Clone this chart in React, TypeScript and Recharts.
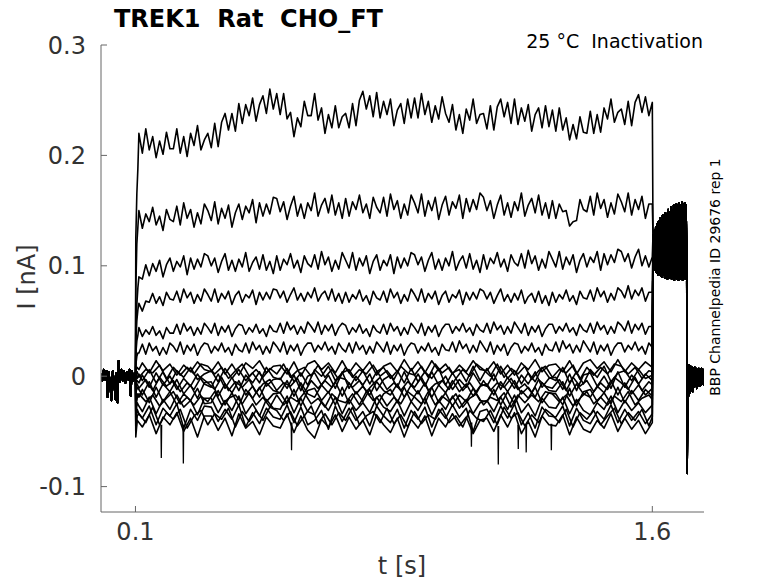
import React from 'react';
import { LineChart, Line, XAxis, YAxis } from 'recharts';

const FONT = '"DejaVu Sans", sans-serif';

// Times in s, currents in pA (1 pA = 0.001 nA)
const PRE_T = [0, 0.004, 0.008, 0.012, 0.016, 0.019, 0.022, 0.026, 0.03, 0.034, 0.038, 0.042, 0.045, 0.048, 0.051, 0.055, 0.059, 0.063, 0.067, 0.071, 0.075, 0.079, 0.083, 0.086, 0.09, 0.094, 0.098];
const PRE_I = [2, -4, 6, -3, 5, -19, 4, -5, -22, 5, -6, -21, 3, -24, 14, -5, 6, -4, 5, -6, 4, -3, 6, -18, 5, -4, 3];

// fine sampling (upper sweeps)
const FINE_T = [
  0.1, 0.101, 0.104, 0.107,
  0.11, 0.12, 0.13, 0.14, 0.15, 0.16, 0.17, 0.18, 0.19, 0.2,
  0.21, 0.22, 0.23, 0.24, 0.25, 0.26, 0.27, 0.28, 0.29, 0.3,
  0.31, 0.32, 0.33, 0.34, 0.35, 0.36, 0.37, 0.38, 0.39, 0.4,
  0.41, 0.42, 0.43, 0.44, 0.45, 0.46, 0.47, 0.48, 0.49, 0.5,
  0.51, 0.52, 0.53, 0.54, 0.55, 0.56, 0.57, 0.58, 0.59, 0.6,
  0.61, 0.62, 0.63, 0.64, 0.65, 0.66, 0.67, 0.68, 0.69, 0.7,
  0.71, 0.72, 0.73, 0.74, 0.75, 0.76, 0.77, 0.78, 0.79, 0.8,
  0.81, 0.82, 0.83, 0.84, 0.85, 0.86, 0.87, 0.88, 0.89, 0.9,
  0.91, 0.92, 0.93, 0.94, 0.95, 0.96, 0.97, 0.98, 0.99, 1.0,
  1.01, 1.02, 1.03, 1.04, 1.05, 1.06, 1.07, 1.08, 1.09, 1.1,
  1.11, 1.12, 1.13, 1.14, 1.15, 1.16, 1.17, 1.18, 1.19, 1.2,
  1.21, 1.22, 1.23, 1.24, 1.25, 1.26, 1.27, 1.28, 1.29, 1.3,
  1.31, 1.32, 1.33, 1.34, 1.35, 1.36, 1.37, 1.38, 1.39, 1.4,
  1.41, 1.42, 1.43, 1.44, 1.45, 1.46, 1.47, 1.48, 1.49, 1.5,
  1.51, 1.52, 1.53, 1.54, 1.55, 1.56, 1.57, 1.58, 1.59,
  1.6,
];
const TRACE_A = [
  0, 125, 165, 188,
  220, 202, 224, 205, 217, 198, 213, 201, 221, 206,
  206, 224, 202, 217, 199, 220, 209, 227, 205, 214,
  220, 207, 229, 208, 230, 238, 223, 238, 222, 247,
  229, 246, 236, 252, 231, 246, 254, 238, 260, 242,
  256, 237, 256, 233, 239, 217, 234, 226, 249, 236,
  236, 256, 232, 243, 220, 237, 225, 245, 225, 235,
  238, 225, 247, 227, 250, 258, 242, 254, 235, 257,
  234, 249, 237, 251, 227, 241, 247, 229, 251, 234,
  252, 234, 256, 237, 249, 230, 245, 233, 253, 238,
  230, 246, 223, 237, 220, 242, 232, 251, 229, 237,
  238, 224, 245, 223, 244, 251, 235, 248, 229, 251,
  228, 243, 231, 246, 222, 237, 243, 225, 245, 226,
  241, 222, 243, 223, 234, 214, 228, 215, 235, 221,
  220, 240, 220, 237, 221, 243, 233, 251, 230, 239,
  242, 228, 249, 227, 248, 255, 239, 253, 236,
  248,
];
const TRACE_B = [
  0, 80, 120, 135,
  150, 134, 147, 140, 153, 137, 145, 132, 151, 142,
  140, 154, 137, 157, 143, 151, 135, 148, 138, 156,
  150, 141, 158, 138, 152, 143, 155, 135, 148, 156,
  142, 154, 148, 160, 139, 157, 145, 156, 147, 162,
  161, 149, 158, 142, 154, 163, 145, 156, 143, 157,
  150, 166, 145, 155, 161, 148, 164, 146, 157, 143,
  161, 145, 158, 151, 164, 148, 156, 143, 162, 153,
  148, 162, 145, 165, 151, 159, 143, 156, 146, 164,
  157, 148, 165, 145, 159, 150, 162, 142, 155, 163,
  146, 158, 152, 164, 143, 161, 149, 160, 151, 166,
  162, 150, 159, 143, 155, 164, 146, 157, 144, 158,
  150, 166, 145, 155, 161, 148, 164, 146, 157, 143,
  159, 143, 156, 149, 150, 136, 140, 141, 160, 151,
  149, 163, 146, 166, 152, 160, 144, 157, 147, 165,
  158, 149, 166, 146, 160, 151, 163, 143, 156,
  156,
];
const TRACE_C = [
  0, 40, 65, 80,
  90, 88, 101, 91, 102, 95, 105, 90, 101, 107,
  95, 104, 99, 109, 92, 107, 97, 106, 99, 111,
  109, 100, 107, 94, 104, 111, 96, 105, 95, 106,
  99, 112, 95, 103, 108, 97, 110, 96, 104, 93,
  109, 96, 106, 101, 111, 98, 105, 94, 109, 102,
  99, 110, 97, 113, 101, 108, 95, 105, 97, 112,
  105, 98, 112, 96, 107, 100, 109, 93, 104, 110,
  96, 105, 100, 110, 93, 108, 98, 107, 100, 112,
  110, 101, 108, 95, 105, 112, 97, 106, 96, 107,
  100, 113, 96, 104, 109, 98, 111, 97, 105, 94,
  110, 97, 107, 102, 112, 99, 106, 95, 110, 103,
  100, 111, 98, 114, 102, 109, 96, 106, 98, 113,
  106, 99, 113, 97, 108, 101, 110, 94, 105, 111,
  99, 108, 103, 113, 96, 111, 101, 110, 103, 115,
  113, 104, 111, 98, 108, 115, 100, 109, 99,
  108,
];
const TRACE_D = [
  0, 30, 50, 60,
  66, 59, 68, 67, 75, 66, 72, 64, 76, 70,
  69, 77, 67, 79, 71, 76, 66, 74, 68, 79,
  74, 68, 79, 67, 75, 70, 77, 65, 73, 77,
  67, 74, 71, 78, 65, 76, 69, 76, 70, 79,
  78, 71, 77, 67, 74, 80, 69, 75, 68, 76,
  71, 80, 68, 74, 77, 69, 79, 68, 75, 66,
  76, 67, 74, 70, 78, 68, 73, 65, 77, 71,
  69, 77, 67, 79, 71, 76, 66, 74, 68, 79,
  74, 68, 79, 67, 75, 70, 77, 65, 73, 77,
  67, 74, 71, 78, 65, 76, 69, 76, 70, 79,
  77, 70, 76, 66, 73, 79, 68, 74, 67, 75,
  69, 78, 66, 72, 75, 67, 77, 66, 73, 64,
  76, 67, 74, 70, 78, 68, 73, 65, 77, 71,
  70, 78, 68, 80, 72, 77, 67, 75, 69, 80,
  77, 71, 82, 70, 78, 73, 80, 68, 76,
  76,
];
const TRACE_E = [
  0, 20, 32, 37,
  44, 36, 42, 38, 45, 37, 41, 34, 44, 39,
  39, 47, 38, 48, 41, 45, 37, 44, 38, 48,
  44, 39, 48, 37, 45, 40, 46, 36, 43, 47,
  46, 38, 44, 40, 47, 39, 43, 36, 46, 41,
  40, 48, 39, 49, 42, 46, 38, 45, 39, 49,
  45, 40, 49, 38, 46, 41, 47, 37, 44, 48,
  46, 38, 44, 40, 47, 39, 43, 36, 46, 41,
  39, 47, 38, 48, 41, 45, 37, 44, 38, 48,
  44, 39, 48, 37, 45, 40, 46, 36, 43, 47,
  47, 39, 45, 41, 48, 40, 44, 37, 47, 42,
  40, 48, 39, 49, 42, 46, 38, 45, 39, 49,
  44, 39, 48, 37, 45, 40, 46, 36, 43, 47,
  47, 39, 45, 41, 48, 40, 44, 37, 47, 42,
  40, 48, 39, 49, 42, 46, 38, 45, 39, 49,
  46, 41, 50, 39, 47, 42, 48, 38, 45,
  45,
];
const TRACE_F = [
  0, 10, 18, 21,
  21, 29, 20, 30, 23, 27, 19, 26, 20, 30,
  27, 22, 31, 20, 28, 23, 29, 19, 26, 30,
  29, 21, 27, 23, 30, 22, 26, 19, 29, 24,
  22, 30, 21, 31, 24, 28, 20, 27, 21, 31,
  27, 22, 31, 20, 28, 23, 29, 19, 26, 30,
  30, 22, 28, 24, 31, 23, 27, 20, 30, 25,
  22, 30, 21, 31, 24, 28, 20, 27, 21, 31,
  27, 22, 31, 20, 28, 23, 29, 19, 26, 30,
  29, 21, 27, 23, 30, 22, 26, 19, 29, 24,
  23, 31, 22, 32, 25, 29, 21, 28, 22, 32,
  27, 22, 31, 20, 28, 23, 29, 19, 26, 30,
  29, 21, 27, 23, 30, 22, 26, 19, 29, 24,
  23, 31, 22, 32, 25, 29, 21, 28, 22, 32,
  27, 22, 31, 20, 28, 23, 29, 19, 26, 30,
  30, 22, 28, 24, 31, 23, 27, 20, 30,
  26,
];

// coarse sampling, even grid (lower sweeps)
const EVEN_T = [
  0.1, 0.101, 0.105, 0.11,
  0.12, 0.14, 0.16, 0.18, 0.2, 0.22, 0.24, 0.26, 0.28, 0.3,
  0.32, 0.34, 0.36, 0.38, 0.4, 0.42, 0.44, 0.46, 0.48, 0.5,
  0.52, 0.54, 0.56, 0.58, 0.6, 0.62, 0.64, 0.66, 0.68, 0.7,
  0.72, 0.74, 0.76, 0.78, 0.8, 0.82, 0.84, 0.86, 0.88, 0.9,
  0.92, 0.94, 0.96, 0.98, 1.0, 1.02, 1.04, 1.06, 1.08, 1.1,
  1.12, 1.14, 1.16, 1.18, 1.2, 1.22, 1.24, 1.26, 1.28, 1.3,
  1.32, 1.34, 1.36, 1.38, 1.4, 1.42, 1.44, 1.46, 1.48, 1.5,
  1.52, 1.54, 1.56, 1.58,
  1.6,
];
const TRACE_G = [
  0, 5, 8, 6,
  12, 3, 14, 5, 11, 1, 10, 4, 13, 6,
  4, 13, 2, 11, 1, 12, 7, 14, 3, 9,
  10, 2, 13, 0, 11, 14, 6, 12, 3, 14,
  3, 12, 5, 13, 1, 9, 12, 4, 15, 5,
  13, 3, 14, 5, 11, 2, 10, 4, 14, 6,
  5, 13, 2, 10, 1, 12, 6, 15, 4, 10,
  11, 4, 14, 2, 12, 15, 7, 13, 4, 15,
  4, 12, 6, 13,
  8,
];
const TRACE_H = [
  0, 3, -2, 2,
  -4, 6, -6, 4, -7, 5, -1, 8, -3, 2,
  5, -5, 7, -2, 6, -4, 3, -6, 8, -1,
  -3, 7, -5, 3, -8, 6, 0, 9, -4, 3,
  6, -4, 5, -7, 4, 8, -2, 5, -6, 7,
  -5, 4, -2, 7, -8, 3, 6, -5, 9, -4,
  7, -4, 9, -2, 5, -7, 3, -5, 8, -1,
  -4, 8, -6, 4, -7, 6, -1, 9, -5, 3,
  5, -4, 6, -2,
  1,
];
const TRACE_I = [
  0, -8, -4, -6,
  1, -10, 3, -8, 0, -12, -2, -9, 2, -7,
  -10, 2, -11, -1, -13, 1, -6, 4, -9, -3,
  -2, -11, 1, -13, 0, 3, -8, 1, -11, 4,
  -11, 0, -8, 2, -13, -3, 1, -10, 4, -9,
  2, -9, 4, -8, 0, -12, -3, -10, 3, -7,
  -9, 2, -12, -1, -11, 1, -7, 4, -10, -2,
  -1, -12, 2, -13, 1, 3, -9, 0, -11, 4,
  -10, 1, -7, 2,
  -4,
];
const TRACE_J = [
  0, -15, -10, -12,
  -17, -5, -19, -7, -14, -3, -16, -8, -20, -6,
  -5, -18, -7, -15, -4, -17, -9, -19, -6, -13,
  -15, -4, -18, -6, -16, -19, -8, -15, -5, -18,
  -6, -16, -9, -17, -5, -13, -17, -7, -19, -8,
  -16, -6, -19, -8, -15, -4, -14, -7, -18, -9,
  -7, -17, -5, -14, -4, -16, -10, -19, -6, -13,
  -14, -5, -18, -7, -16, -19, -9, -15, -4, -17,
  -6, -16, -8, -17,
  -11,
];
const TRACE_K = [
  0, -25, -16, -19,
  -12, -24, -10, -23, -14, -26, -16, -22, -11, -25,
  -24, -13, -26, -15, -27, -12, -20, -10, -23, -16,
  -15, -25, -12, -27, -13, -11, -22, -14, -26, -10,
  -25, -14, -23, -12, -27, -16, -12, -24, -10, -23,
  -13, -25, -10, -24, -15, -27, -17, -23, -11, -22,
  -23, -12, -26, -14, -25, -13, -20, -10, -24, -15,
  -16, -26, -11, -27, -14, -12, -23, -15, -25, -10,
  -24, -13, -22, -12,
  -18,
];
const TRACE_L = [
  0, -35, -24, -27,
  -32, -19, -34, -21, -30, -17, -28, -22, -35, -20,
  -20, -33, -22, -31, -18, -34, -25, -36, -21, -29,
  -30, -18, -33, -20, -32, -35, -23, -31, -19, -34,
  -21, -31, -24, -33, -19, -28, -32, -22, -36, -23,
  -31, -20, -35, -22, -30, -18, -29, -21, -34, -24,
  -22, -32, -19, -30, -17, -33, -25, -36, -20, -28,
  -29, -19, -34, -21, -31, -35, -24, -30, -18, -33,
  -22, -31, -24, -33,
  -26,
];
const TRACE_M = [
  0, -45, -30, -34,
  -38, -27, -44, -29, -36, -25, -47, -30, -40, -27,
  -28, -41, -30, -39, -26, -46, -33, -43, -29, -37,
  -39, -26, -42, -28, -44, -40, -31, -48, -27, -41,
  -29, -40, -32, -45, -27, -36, -42, -30, -47, -31,
  -39, -28, -46, -30, -38, -26, -37, -29, -50, -32,
  -30, -42, -27, -38, -25, -44, -33, -47, -28, -36,
  -37, -27, -45, -29, -40, -43, -32, -39, -26, -42,
  -30, -40, -32, -43,
  -34,
];
const TRACE_N = [
  0, -55, -40, -42,
  -46, -35, -52, -37, -44, -33, -50, -38, -55, -36,
  -36, -49, -38, -54, -34, -47, -41, -53, -37, -45,
  -47, -34, -51, -36, -49, -56, -39, -46, -35, -50,
  -37, -48, -40, -53, -35, -44, -51, -38, -55, -39,
  -47, -36, -54, -38, -46, -34, -45, -37, -52, -40,
  -38, -50, -35, -46, -33, -52, -41, -55, -36, -44,
  -45, -35, -53, -37, -48, -51, -40, -47, -34, -50,
  -38, -48, -40, -52,
  -42,
];

// coarse sampling, odd grid (more lower sweeps)
const ODD_T = [
  0.1, 0.101, 0.105,
  0.11, 0.13, 0.15, 0.17, 0.19, 0.21, 0.23, 0.25, 0.27, 0.29,
  0.31, 0.33, 0.35, 0.37, 0.39, 0.41, 0.43, 0.45, 0.47, 0.49,
  0.51, 0.53, 0.55, 0.57, 0.59, 0.61, 0.63, 0.65, 0.67, 0.69,
  0.71, 0.73, 0.75, 0.77, 0.79, 0.81, 0.83, 0.85, 0.87, 0.89,
  0.91, 0.93, 0.95, 0.97, 0.99, 1.01, 1.03, 1.05, 1.07, 1.09,
  1.11, 1.13, 1.15, 1.17, 1.19, 1.21, 1.23, 1.25, 1.27, 1.29,
  1.31, 1.33, 1.35, 1.37, 1.39, 1.41, 1.43, 1.45, 1.47, 1.49,
  1.51, 1.53, 1.55, 1.57, 1.59,
  1.6,
];
const TRACE_O = [
  0, 2, 4,
  -1, 6, 3, 10, -3, 8, 1, 8, 2, 11,
  9, 2, 8, -2, 5, 11, 0, 6, -1, 7,
  2, 11, -1, 5, 8, 0, 10, -1, 6, -3,
  8, -1, 6, 2, 10, 0, 5, -3, 9, 3,
  1, 9, -1, 11, 3, 8, -2, 6, 0, 11,
  6, 0, 11, -1, 7, 2, 9, -3, 5, 9,
  -1, 6, 3, 10, -3, 8, 1, 8, 2, 11,
  9, 2, 8, -2, 5,
  4,
];
const TRACE_P = [
  0, -10, -7,
  -11, -3, -13, -1, -9, -4, -14, -6, -12, -1,
  -6, -12, -1, -13, -5, -10, -3, -15, -7, -3,
  -13, -6, -9, -2, -15, -4, -11, -4, -10, -1,
  -3, -10, -4, -14, -7, -1, -12, -6, -13, -5,
  -10, -1, -13, -7, -4, -12, -2, -13, -6, -15,
  -4, -13, -6, -10, -2, -12, -7, -15, -3, -9,
  -11, -3, -13, -1, -9, -4, -14, -6, -12, -1,
  -6, -12, -1, -13, -5,
  -8,
];
const TRACE_Q = [
  0, -28, -20,
  -16, -23, -17, -27, -20, -14, -25, -19, -26, -18,
  -23, -14, -26, -20, -17, -25, -15, -26, -19, -28,
  -17, -26, -19, -23, -15, -25, -20, -28, -16, -22,
  -24, -16, -26, -14, -22, -17, -27, -19, -25, -14,
  -19, -25, -14, -26, -18, -23, -16, -28, -20, -16,
  -26, -19, -22, -15, -28, -17, -24, -17, -23, -14,
  -16, -23, -17, -27, -20, -14, -25, -19, -26, -18,
  -23, -14, -26, -20, -17,
  -21,
];
const TRACE_R = [
  0, -50, -36,
  -34, -42, -28, -44, -33, -39, -30, -47, -36, -31,
  -44, -34, -39, -29, -46, -32, -41, -31, -40, -28,
  -31, -40, -32, -45, -36, -27, -43, -34, -44, -33,
  -40, -28, -44, -36, -32, -42, -29, -43, -35, -46,
  -32, -43, -35, -39, -29, -42, -36, -46, -31, -38,
  -41, -31, -44, -28, -38, -33, -45, -35, -42, -30,
  -35, -42, -30, -46, -33, -39, -31, -44, -36, -29,
  -43, -33, -40, -30, -45,
  -37,
];

const TAIL_T = [
  1.602, 1.604, 1.606, 1.608, 1.61, 1.612, 1.614, 1.616, 1.618, 1.62,
  1.622, 1.624, 1.626, 1.628, 1.63, 1.632, 1.634, 1.636, 1.638, 1.64,
  1.642, 1.644, 1.646, 1.648, 1.65, 1.652, 1.654, 1.656, 1.658, 1.66,
  1.662, 1.664, 1.666, 1.668, 1.67, 1.672, 1.674, 1.676, 1.678, 1.68,
  1.682, 1.684, 1.686, 1.688, 1.69, 1.692, 1.694, 1.696, 1.698, 1.7,
];
const TAIL_I = [
  128, 98, 132, 96, 135, 94, 138, 92, 140, 93,
  143, 91, 141, 90, 146, 92, 144, 89, 148, 91,
  147, 88, 151, 90, 149, 89, 153, 88, 150, 90,
  155, 87, 152, 89, 156, 88, 154, 87, 157, 89,
  155, 88, 158, 87, 156, 89, 157, 88, 155, 90,
];

const POST_T = [
  1.701, 1.703, 1.705, 1.707, 1.709, 1.711, 1.713, 1.715, 1.717, 1.719,
  1.721, 1.723, 1.725, 1.727, 1.729, 1.731, 1.733, 1.735, 1.737, 1.739,
  1.741, 1.743, 1.745, 1.747, 1.749, 1.75,
];
const POST_I = [
  -88, 8, -18, 10, -15, 9, -12, 8, -14, 7,
  -10, 8, -9, 7, -11, 6, -8, 7, -9, 6,
  -8, 7, -7, 6, -8, 0,
];

const SPIKE_T = [
  0.174, 0.175, 0.176, 0.1765,
  0.238, 0.239, 0.24, 0.2405,
  0.552, 0.553, 0.554, 0.5545,
  1.074, 1.075, 1.076, 1.0765,
  1.152, 1.153, 1.154, 1.1545,
  1.21, 1.211, 1.212, 1.2125,
  1.233, 1.234, 1.235, 1.2355,
  1.306, 1.307, 1.308,
];
const SPIKE_I = [
  -44, -74, -44, null,
  -44, -79, -44, null,
  -42, -67, -42, null,
  -42, -64, -42, null,
  -45, -80, -45, null,
  -44, -66, -44, null,
  -44, -69, -44, null,
  -43, -67, -43,
];

const X_TICKS = [0.1, 1.6];
const Y_TICKS = [-0.1, 0, 0.1, 0.2, 0.3];

function toPoints(ts: number[], vs: (number | null)[]) {
  const out: { t: number; v: number | null }[] = [];
  ts.forEach((t, i) => {
    const v = vs[i];
    if (v === undefined) return;
    out.push({ t, v: v === null ? null : v / 1000 });
  });
  return out;
}

function sweep(ts: number[], vs: number[]) {
  return [
    ...toPoints(PRE_T, PRE_I),
    ...toPoints(ts, vs),
    ...toPoints(TAIL_T, TAIL_I),
    ...toPoints(POST_T, POST_I),
  ];
}

const SWEEPS = [
  sweep(FINE_T, TRACE_A),
  sweep(FINE_T, TRACE_B),
  sweep(FINE_T, TRACE_C),
  sweep(FINE_T, TRACE_D),
  sweep(FINE_T, TRACE_E),
  sweep(FINE_T, TRACE_F),
  sweep(EVEN_T, TRACE_G),
  sweep(EVEN_T, TRACE_H),
  sweep(EVEN_T, TRACE_I),
  sweep(EVEN_T, TRACE_J),
  sweep(EVEN_T, TRACE_K),
  sweep(EVEN_T, TRACE_L),
  sweep(EVEN_T, TRACE_M),
  sweep(EVEN_T, TRACE_N),
  sweep(ODD_T, TRACE_O),
  sweep(ODD_T, TRACE_P),
  sweep(ODD_T, TRACE_Q),
  sweep(ODD_T, TRACE_R),
];
const SPIKES = toPoints(SPIKE_T, SPIKE_I);

const tickStyle = { fill: '#333', fontSize: 24, fontFamily: FONT };

export default function App() {
  return (
    <div style={{ position: 'absolute', left: 0, top: 0, width: 778, height: 583, background: '#fff' }}>
      <LineChart width={778} height={583} margin={{ top: 45, right: 74, bottom: 41, left: 41 }}>
        <XAxis
          type="number"
          dataKey="t"
          domain={[0, 1.75]}
          ticks={X_TICKS}
          interval={0}
          allowDataOverflow
          height={30}
          stroke="#666"
          tick={tickStyle}
          tickSize={-6}
          tickMargin={17}
        />
        <YAxis
          type="number"
          dataKey="v"
          domain={[-0.123, 0.3]}
          ticks={Y_TICKS}
          interval={0}
          allowDataOverflow
          width={60}
          stroke="#666"
          tick={tickStyle}
          tickSize={-6}
          tickMargin={21}
        />
        {SWEEPS.map((d, i) => (
          <Line
            key={i}
            data={d}
            dataKey="v"
            type="linear"
            stroke="#000"
            strokeWidth={1.6}
            strokeLinejoin="round"
            dot={false}
            activeDot={false}
            isAnimationActive={false}
          />
        ))}
        <Line
          data={SPIKES}
          dataKey="v"
          type="linear"
          stroke="#000"
          strokeWidth={1.3}
          dot={false}
          activeDot={false}
          connectNulls={false}
          isAnimationActive={false}
        />
      </LineChart>
      <svg
        width={778}
        height={583}
        style={{ position: 'absolute', left: 0, top: 0, pointerEvents: 'none' }}
        fontFamily={FONT}
      >
        <text x={114} y={27} fontSize={24} fontWeight="bold" fill="#000" style={{ whiteSpace: 'pre' }}>
          TREK1  Rat  CHO_FT
        </text>
        <text x={703} y={48} fontSize={19} textAnchor="end" fill="#000" style={{ whiteSpace: 'pre' }}>
          25 °C  Inactivation
        </text>
        <text transform="translate(35,277) rotate(-90)" fontSize={24} textAnchor="middle" fill="#333">
          I [nA]
        </text>
        <text x={402} y={574} fontSize={24} textAnchor="middle" fill="#333">
          t [s]
        </text>
        <text transform="translate(720,277) rotate(-90)" fontSize={14} textAnchor="middle" fill="#000">
          BBP Channelpedia ID 29676 rep 1
        </text>
      </svg>
    </div>
  );
}
